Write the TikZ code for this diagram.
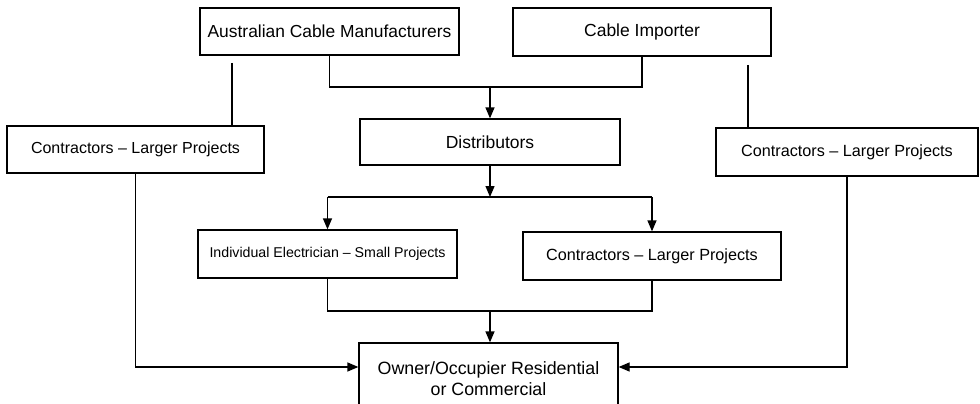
\documentclass[tikz,border=0pt]{standalone}
\usepackage{fontspec}
\setmainfont{Liberation Sans}
\usetikzlibrary{arrows.meta}
\tikzset{
  box/.style={draw, line width=1.3pt, rectangle, inner sep=0pt, align=center},
  conn/.style={line width=1.3pt},
  arr/.style={conn, -{Triangle[length=11pt,width=9pt]}},
}
\begin{document}
\begin{tikzpicture}[x=1pt,y=-1pt]
\useasboundingbox (0,0) rectangle (980,404);
\clip (0,0) rectangle (980,404);
\fill[white] (0,0) rectangle (980,404);
% nodes
\node[box, minimum width=259pt, minimum height=47pt, font=\fontsize{17.4}{20}\selectfont] (acm) at (329.5,31.5) {Australian Cable Manufacturers};
\node[box, minimum width=258pt, minimum height=48pt, font=\fontsize{17.5}{20}\selectfont] (ci) at (642,32) {Cable Importer};
\node[box, minimum width=257pt, minimum height=47pt, font=\fontsize{16}{19}\selectfont] (lc) at (135.5,149.5) {Contractors -- Larger Projects};
\node[box, minimum width=262pt, minimum height=48pt, font=\fontsize{16.2}{19}\selectfont] (rc) at (847,152) {Contractors -- Larger Projects};
\node[box, minimum width=260pt, minimum height=46pt, font=\fontsize{17.5}{20}\selectfont] (dist) at (490,142) {Distributors};
\node[box, minimum width=259pt, minimum height=48pt, font=\fontsize{14.2}{17}\selectfont] (ie) at (327.5,254) {Individual Electrician -- Small Projects};
\node[box, minimum width=258pt, minimum height=48pt, font=\fontsize{16.2}{19}\selectfont] (mc) at (652,256) {Contractors -- Larger Projects};
\node[box, minimum width=259pt, minimum height=72pt, font=\fontsize{17.8}{21}\selectfont] (own) at (488.5,379) {Owner/Occupier Residential\\or Commercial};
% helper coordinates
\coordinate (topbar) at (0,87);
\coordinate (midbar) at (0,197);
\coordinate (lowbar) at (0,311);
\coordinate (ls) at (232,63);
\coordinate (rs) at (748,65);
% top bracket
\draw[conn] (acm.south) |- (topbar -| ci.south) -- (ci.south);
\draw[arr] (dist.north |- topbar) -- (dist.north);
% side lines from producers
\draw[conn] (ls) -- (ls |- lc.north);
\draw[conn] (rs) -- (rs |- rc.north);
% distributors split
\draw[arr] (dist.south) -- (dist.south |- midbar);
\draw[conn] (ie.north |- midbar) -- (mc.north |- midbar);
\draw[arr] (ie.north |- midbar) -- (ie.north);
\draw[arr] (mc.north |- midbar) -- (mc.north);
% lower bracket
\draw[conn] (ie.south) |- (lowbar -| mc.south) -- (mc.south);
\draw[arr] (dist.south |- lowbar) -- (dist.south |- own.north);
% side contractors to owner
\coordinate (ly) at (0,367);
\draw[arr] (lc.south) |- (ly -| own.west);
\draw[arr] (rc.south) |- (ly -| own.east);
\end{tikzpicture}
\end{document}
